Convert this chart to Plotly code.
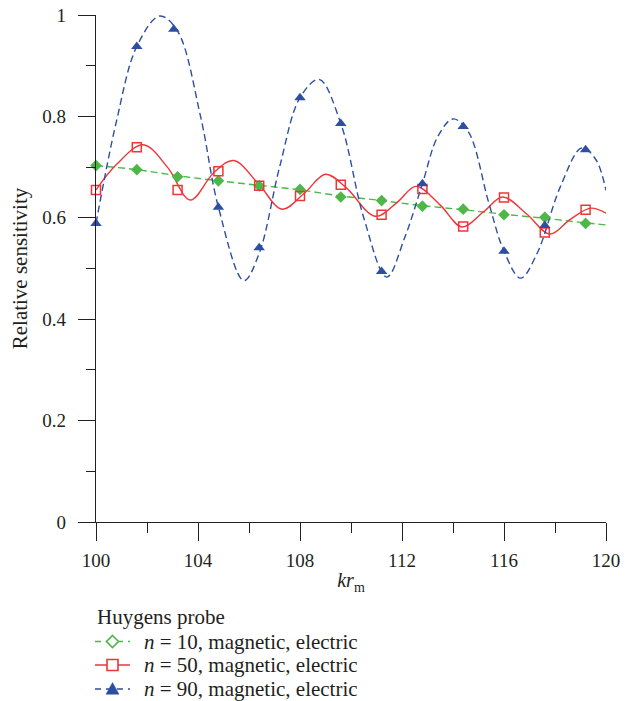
import plotly.graph_objects as go

# Sample positions (kr_m) where the markers sit
marker_kr = [100.0, 101.6, 103.2, 104.8, 106.4, 108.0, 109.6,
             111.2, 112.8, 114.4, 116.0, 117.6, 119.2]
marker_kr_n90 = [100.0, 101.6, 103.05, 104.8, 106.4, 108.0, 109.6,
                 111.2, 112.8, 114.4, 116.0, 117.6, 119.2]

# Relative sensitivity at the marker positions
n10_markers = [0.703, 0.695, 0.681, 0.673, 0.663, 0.656, 0.641,
               0.634, 0.623, 0.617, 0.606, 0.601, 0.589]
n50_markers = [0.655, 0.739, 0.655, 0.692, 0.663, 0.643, 0.665,
               0.606, 0.657, 0.583, 0.640, 0.571, 0.616]
n90_markers = [0.589, 0.938, 0.972, 0.621, 0.541, 0.837, 0.786,
               0.494, 0.667, 0.780, 0.534, 0.585, 0.734]

# Continuous response curves (markers plus turning points)
n10_curve_x = [100.0, 101.6, 103.2, 104.8, 106.4, 108.0, 109.6,
               111.2, 112.8, 114.4, 116.0, 117.6, 119.2, 120.0]
n10_curve_y = [0.703, 0.695, 0.683, 0.673, 0.664, 0.655, 0.643,
               0.634, 0.624, 0.616, 0.607, 0.599, 0.590, 0.586]

n50_curve_x = [100.0, 100.8, 101.85, 102.8, 103.7, 104.6, 105.4, 106.4,
               107.3, 108.2, 109.0, 109.8, 110.95, 111.8, 112.55, 113.5,
               114.35, 115.2, 115.95, 116.9, 117.8, 118.6, 119.4, 120.0]
n50_curve_y = [0.655, 0.705, 0.744, 0.700, 0.635, 0.688, 0.713, 0.665,
               0.617, 0.650, 0.686, 0.660, 0.603, 0.630, 0.662, 0.625,
               0.582, 0.612, 0.641, 0.607, 0.568, 0.597, 0.619, 0.609]

n90_curve_x = [100.0, 100.8, 101.6, 102.5, 103.2, 104.1, 104.8, 105.8,
               106.4, 107.2, 108.0, 108.75, 109.6, 110.5, 111.4, 112.1,
               112.8, 113.4, 114.0, 114.6, 115.4, 116.0, 116.65, 117.3,
               118.2, 119.05, 119.6, 120.0]
n90_curve_y = [0.589, 0.790, 0.938, 0.998, 0.968, 0.800, 0.621, 0.476,
               0.530, 0.700, 0.837, 0.873, 0.786, 0.600, 0.483, 0.560,
               0.667, 0.760, 0.795, 0.770, 0.630, 0.534, 0.481, 0.530,
               0.660, 0.738, 0.715, 0.654]

legend_title = "Huygens probe"
legend_labels = ["<i>n</i> = 10, magnetic, electric",
                 "<i>n</i> = 50, magnetic, electric",
                 "<i>n</i> = 90, magnetic, electric"]

GREEN = "#4db848"
RED = "#ee3538"
BLUE = "#2e4f9f"
SERIF = "'Liberation Serif', 'DejaVu Serif', serif"
INK = "#231f20"
FS = 19

W, H = 634, 701
M = dict(l=96, r=28, t=15, b=179)
PW, PH = W - M["l"] - M["r"], H - M["t"] - M["b"]


def px(x):
    """Figure pixel column -> paper x."""
    return (x - M["l"]) / PW


def py(y):
    """Figure pixel row -> paper y."""
    return (H - M["b"] - y) / PH


fig = go.Figure()

# Curves
fig.add_trace(go.Scatter(x=n10_curve_x, y=n10_curve_y, mode="lines",
                         line=dict(color=GREEN, width=1.4, dash="7px,4px",
                                   shape="spline", smoothing=1.0),
                         showlegend=False, hoverinfo="skip"))
fig.add_trace(go.Scatter(x=n50_curve_x, y=n50_curve_y, mode="lines",
                         line=dict(color=RED, width=1.4, shape="spline",
                                   smoothing=1.0),
                         showlegend=False, hoverinfo="skip"))
fig.add_trace(go.Scatter(x=n90_curve_x, y=n90_curve_y, mode="lines",
                         line=dict(color=BLUE, width=1.4, dash="7px,4px",
                                   shape="spline", smoothing=1.0),
                         showlegend=False, hoverinfo="skip"))

# Markers
fig.add_trace(go.Scatter(x=marker_kr, y=n10_markers, mode="markers",
                         marker=dict(symbol="diamond", size=9, color=GREEN,
                                     line=dict(width=0)),
                         cliponaxis=False, showlegend=False))
fig.add_trace(go.Scatter(x=marker_kr, y=n50_markers, mode="markers",
                         marker=dict(symbol="square-open", size=9, color=RED,
                                     line=dict(width=1.5)),
                         cliponaxis=False, showlegend=False))
fig.add_trace(go.Scatter(x=marker_kr_n90, y=n90_markers, mode="markers",
                         marker=dict(symbol="triangle-up", size=10, color=BLUE,
                                     line=dict(width=0)),
                         cliponaxis=False, showlegend=False))

# Legend block below the axes: title, then one row per series
shapes = []
annotations = [dict(text=legend_title, xref="paper", yref="paper",
                    x=px(95), y=py(617), xanchor="left", yanchor="middle",
                    showarrow=False, font=dict(family=SERIF, size=21, color=INK))]
row_rows = [641.5, 665.0, 689.0]
glyph_x0, glyph_x1, glyph_c = 95, 130, 112.5
styles = [(GREEN, "6px,5px", "diamond"), (RED, "solid", "square"),
          (BLUE, "6px,5px", "triangle")]
for label, row, (color, dash, glyph) in zip(legend_labels, row_rows, styles):
    shapes.append(dict(type="line", xref="paper", yref="paper",
                       x0=px(glyph_x0), x1=px(glyph_x1), y0=py(row), y1=py(row),
                       line=dict(color=color, width=1.4, dash=dash)))
    if glyph == "diamond":
        r = 6.0
        path = (f"M{px(glyph_c)},{py(row - r)} L{px(glyph_c + r)},{py(row)} "
                f"L{px(glyph_c)},{py(row + r)} L{px(glyph_c - r)},{py(row)} Z")
        shapes.append(dict(type="path", xref="paper", yref="paper", path=path,
                           fillcolor="white", line=dict(color=color, width=1.6)))
    elif glyph == "square":
        r = 5.5
        shapes.append(dict(type="rect", xref="paper", yref="paper",
                           x0=px(glyph_c - r), x1=px(glyph_c + r),
                           y0=py(row + r), y1=py(row - r),
                           fillcolor="white", line=dict(color=color, width=1.6)))
    else:
        r = 6.5
        path = (f"M{px(glyph_c)},{py(row - r)} L{px(glyph_c + r)},{py(row + 0.8 * r)} "
                f"L{px(glyph_c - r)},{py(row + 0.8 * r)} Z")
        shapes.append(dict(type="path", xref="paper", yref="paper", path=path,
                           fillcolor=color, line=dict(color=color, width=0.5)))
    annotations.append(dict(text=label, xref="paper", yref="paper",
                            x=px(142), y=py(row), xanchor="left",
                            yanchor="middle", showarrow=False,
                            font=dict(family=SERIF, size=21, color=INK)))

fig.update_layout(
    width=W, height=H,
    margin=dict(**M, autoexpand=False),
    paper_bgcolor="white", plot_bgcolor="white",
    font=dict(family=SERIF, size=FS, color=INK),
    showlegend=False,
    shapes=shapes,
    annotations=annotations,
    xaxis=dict(
        range=[100, 120], tickvals=[100, 104, 108, 112, 116, 120],
        ticks="outside", ticklen=18, tickwidth=1.2, tickcolor=INK,
        ticklabelstandoff=3,
        showline=True, linecolor=INK, linewidth=1.2,
        showgrid=False, zeroline=False, automargin=False,
        minor=dict(tickvals=[102, 106, 110, 114, 118], ticks="outside",
                   ticklen=10, tickwidth=1.2, tickcolor=INK),
        title=dict(text="<i>kr</i><sub>m</sub>", font=dict(family=SERIF, size=20),
                   standoff=3),
        tickfont=dict(family=SERIF, size=FS),
    ),
    yaxis=dict(
        range=[0, 1], tickvals=[0, 0.2, 0.4, 0.6, 0.8, 1],
        ticktext=["0", "0.2", "0.4", "0.6", "0.8", "1"],
        ticks="outside", ticklen=17, tickwidth=1.2, tickcolor=INK,
        ticklabelstandoff=8,
        showline=True, linecolor=INK, linewidth=1.2,
        showgrid=False, zeroline=False, automargin=False,
        minor=dict(tickvals=[0.1, 0.3, 0.5, 0.7, 0.9], ticks="outside",
                   ticklen=9, tickwidth=1.2, tickcolor=INK),
        title=dict(text="Relative sensitivity", font=dict(family=SERIF, size=21),
                   standoff=8),
        tickfont=dict(family=SERIF, size=FS),
    ),
)

fig.write_html("out.html")
